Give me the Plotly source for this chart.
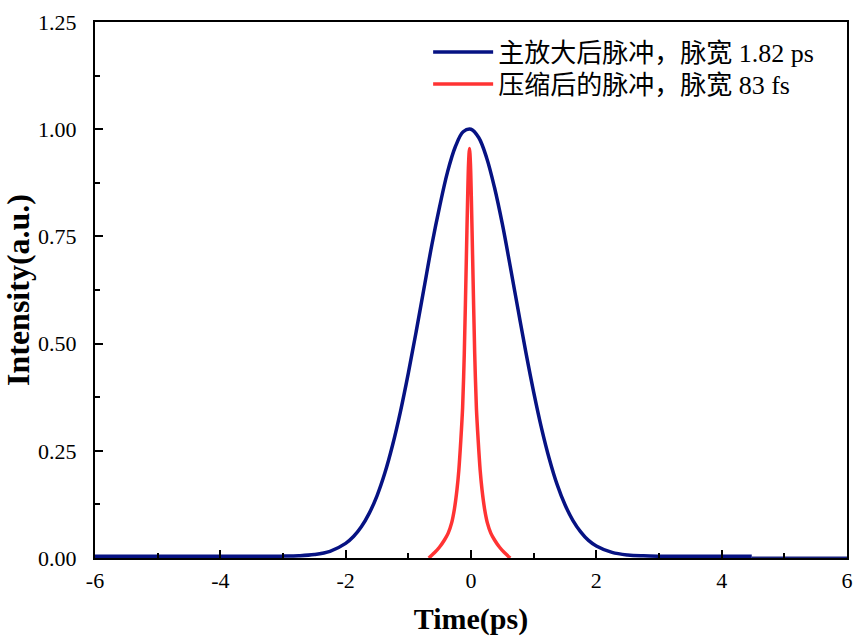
import plotly.graph_objects as go

# Main amplified pulse
blue_x = [-6.0, -3.5, -3.0, -2.75, -2.5, -2.25, -2.0, -1.875, -1.75, -1.625, -1.5, -1.375, -1.25, -1.125,
          -1.0, -0.875, -0.75, -0.625, -0.5, -0.375, -0.25, -0.125, 0.0, 0.125, 0.25, 0.375, 0.5, 0.625,
          0.75, 0.875, 1.0, 1.125, 1.25, 1.375, 1.5, 1.625, 1.75, 1.875, 2.0, 2.25, 2.5, 2.75, 3.0, 3.5, 4.48]
blue_y = [0.004, 0.004, 0.0044, 0.0052, 0.008, 0.0155, 0.034, 0.050, 0.0727, 0.104, 0.145, 0.198, 0.264, 0.342,
          0.431, 0.528, 0.629, 0.730, 0.820, 0.900, 0.959, 0.994, 1.000, 0.980, 0.933, 0.864, 0.779, 0.681,
          0.580, 0.480, 0.387, 0.303, 0.231, 0.171, 0.124, 0.088, 0.061, 0.041, 0.028, 0.013, 0.007, 0.005,
          0.0043, 0.004, 0.004]

# Tail segment
tail_x = [4.48, 6.0]
tail_y = [0.002, 0.002]

# Compressed pulse
red_x = [-0.674, -0.584, -0.504, -0.424, -0.364, -0.309, -0.264, -0.224, -0.194, -0.162, -0.134,
         -0.107, -0.074, -0.053, -0.039, -0.024, -0.009, 0.005, 0.026, 0.059, 0.086, 0.114, 0.146,
         0.176, 0.216, 0.261, 0.316, 0.376, 0.456, 0.536, 0.626]
red_y = [0.0, 0.012, 0.025, 0.042, 0.058, 0.082, 0.115, 0.159, 0.205, 0.276, 0.35,
         0.477, 0.70, 0.844, 0.92, 0.955, 0.92, 0.844, 0.70, 0.477, 0.35, 0.276, 0.205,
         0.159, 0.115, 0.082, 0.058, 0.042, 0.025, 0.012, 0.0]

x_ticks = [-6, -4, -2, 0, 2, 4, 6]
y_ticks = [0.0, 0.25, 0.5, 0.75, 1.0, 1.25]

serif = "Liberation Serif, Times New Roman, Noto Sans CJK SC, serif"

fig = go.Figure()
fig.add_trace(go.Scatter(x=tail_x, y=tail_y, mode="lines", showlegend=False,
                         line=dict(color="#1a237e", width=1.5), hoverinfo="skip"))
fig.add_trace(go.Scatter(x=blue_x, y=blue_y, mode="lines", name="主放大后脉冲，脉宽 1.82 ps",
                         legend="legend",
                         line=dict(color="#061283", width=3.5, shape="spline", smoothing=1.0)))
fig.add_trace(go.Scatter(x=red_x, y=red_y, mode="lines", name="压缩后的脉冲，脉宽 83 fs",
                         legend="legend2",
                         line=dict(color="#ff3333", width=3.5, shape="spline", smoothing=0.8)))

fig.update_layout(
    width=853, height=637,
    margin=dict(l=95, r=6, t=22, b=79, autoexpand=False),
    paper_bgcolor="white", plot_bgcolor="white",
    font=dict(family=serif, size=22, color="black"),
    legend=dict(x=0.443, y=0.944, xanchor="left", yanchor="middle",
                bgcolor="rgba(0,0,0,0)", font=dict(family=serif, size=26, color="black"),
                itemwidth=60),
    legend2=dict(x=0.443, y=0.884, xanchor="left", yanchor="middle",
                 bgcolor="rgba(0,0,0,0)", font=dict(family=serif, size=26, color="black"),
                 itemwidth=60),
    xaxis=dict(range=[-6, 6], tickvals=x_ticks, ticktext=[str(v) for v in x_ticks],
               ticks="inside", ticklen=8, tickwidth=1.5, tickcolor="black",
               minor=dict(dtick=1, ticks="inside", ticklen=5, tickwidth=1.5, tickcolor="black"),
               showline=True, linecolor="black", linewidth=2, mirror=True,
               showgrid=False, zeroline=False, automargin=False, ticklabelstandoff=2,
               title=dict(text="<b>Time(ps)</b>", font=dict(family=serif, size=30), standoff=16),
               tickfont=dict(family=serif, size=22)),
    yaxis=dict(range=[0, 1.25], tickvals=y_ticks, ticktext=[f"{v:.2f}" for v in y_ticks],
               ticks="inside", ticklen=8, tickwidth=1.5, tickcolor="black",
               minor=dict(dtick=0.125, tick0=0, ticks="inside", ticklen=5, tickwidth=1.5, tickcolor="black"),
               showline=True, linecolor="black", linewidth=2, mirror=True,
               showgrid=False, zeroline=False, automargin=False, ticklabelstandoff=12,
               title=dict(text="<b>Intensity(a.u.)</b>", font=dict(family=serif, size=32), standoff=2),
               tickfont=dict(family=serif, size=22)),
)

# remove the default 8px page margin so the 853x637 figure fills the window exactly
fig.write_html("out.html", config={"displayModeBar": False},
               post_script="document.body.style.margin='0';document.body.style.overflow='hidden';")
